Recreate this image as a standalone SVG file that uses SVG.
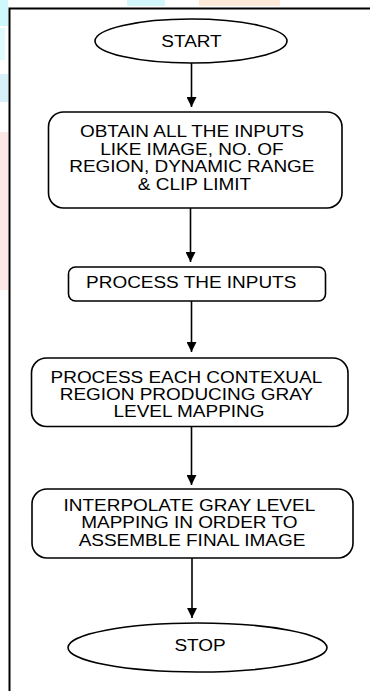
<svg xmlns="http://www.w3.org/2000/svg" width="370" height="691" viewBox="0 0 370 691">
  <style>
    .shape { fill: #ffffff; stroke: #000000; stroke-width: 1.6; }
    .label { font-family: "Liberation Sans", Arial, sans-serif; font-size: 15.8px; fill: #000000; text-anchor: middle; }
    .link { stroke: #000000; stroke-width: 1.6; fill: none; marker-end: url(#arrow); }
  </style>
  <defs>
    <marker id="arrow" viewBox="0 0 10 10" refX="10" refY="5" markerWidth="10" markerHeight="10" markerUnits="userSpaceOnUse" orient="auto">
      <path d="M0,0 L10,5 L0,10 Z" fill="#000000"/>
    </marker>
  </defs>

  <rect width="370" height="691" fill="#ffffff"/>

  <!-- faint background tints along the edges -->
  <g id="tints">
    <rect x="0" y="0" width="8" height="26" fill="#cff8fb"/>
    <rect x="0" y="28" width="5" height="32" fill="#e0fbfd"/>
    <rect x="0" y="74" width="8" height="28" fill="#d8f0f9"/>
    <rect x="0" y="132" width="8" height="158" fill="#fde6e6"/>
    <rect x="127" y="0" width="38" height="6" fill="#d2f8fb"/>
    <rect x="199" y="0" width="81" height="6" fill="#fdead9"/>
  </g>

  <!-- page frame -->
  <g id="frame">
    <path d="M9.5,691 V8.5 H370" fill="none" stroke="#000000" stroke-width="2"/>
  </g>

  <g id="connectors">
    <line class="link" x1="191.5" y1="63" x2="191.5" y2="107"/>
    <line class="link" x1="190.5" y1="208" x2="190.5" y2="262"/>
    <line class="link" x1="191.5" y1="301" x2="191.5" y2="352"/>
    <line class="link" x1="191.5" y1="427" x2="191.5" y2="485"/>
    <line class="link" x1="192" y1="558" x2="192" y2="618"/>
  </g>

  <g id="start">
    <ellipse class="shape" cx="191" cy="41" rx="96" ry="22"/>
    <text class="label" transform="translate(191.5,47.4) scale(1.2,1)">START</text>
  </g>

  <g id="obtain-inputs">
    <rect class="shape" x="48.5" y="112" width="293.5" height="96" rx="15"/>
    <text class="label" transform="translate(194.5,137.3) scale(1.2,1)">
      <tspan x="0" dy="0">OBTAIN ALL THE INPUTS</tspan>
      <tspan x="0" dy="17.6">LIKE IMAGE, NO. OF</tspan>
      <tspan x="0" dy="17.5">REGION, DYNAMIC RANGE</tspan>
      <tspan x="0" dy="17.6">&amp; CLIP LIMIT</tspan>
    </text>
  </g>

  <g id="process-inputs">
    <rect class="shape" x="68.5" y="267" width="257" height="34" rx="7"/>
    <text class="label" transform="translate(191.2,288.3) scale(1.2,1)">PROCESS THE INPUTS</text>
  </g>

  <g id="process-regions">
    <rect class="shape" x="31.5" y="358" width="316.5" height="68.5" rx="15"/>
    <text class="label" transform="translate(189,383) scale(1.2,1)">
      <tspan x="0" dy="0">PROCESS EACH CONTEXUAL</tspan>
      <tspan x="0" dy="16.8">REGION PRODUCING GRAY</tspan>
      <tspan x="0" dy="17">LEVEL MAPPING</tspan>
    </text>
  </g>

  <g id="interpolate">
    <rect class="shape" x="32" y="489" width="321" height="69" rx="15"/>
    <text class="label" transform="translate(192,510.6) scale(1.2,1)">
      <tspan x="0" dy="0">INTERPOLATE GRAY LEVEL</tspan>
      <tspan x="0" dy="17.4">MAPPING IN ORDER TO</tspan>
      <tspan x="0" dy="17.6">ASSEMBLE FINAL IMAGE</tspan>
    </text>
  </g>

  <g id="stop">
    <ellipse class="shape" cx="197.5" cy="647.5" rx="129.5" ry="24.5"/>
    <text class="label" transform="translate(200,650.7) scale(1.2,1)">STOP</text>
  </g>
</svg>
